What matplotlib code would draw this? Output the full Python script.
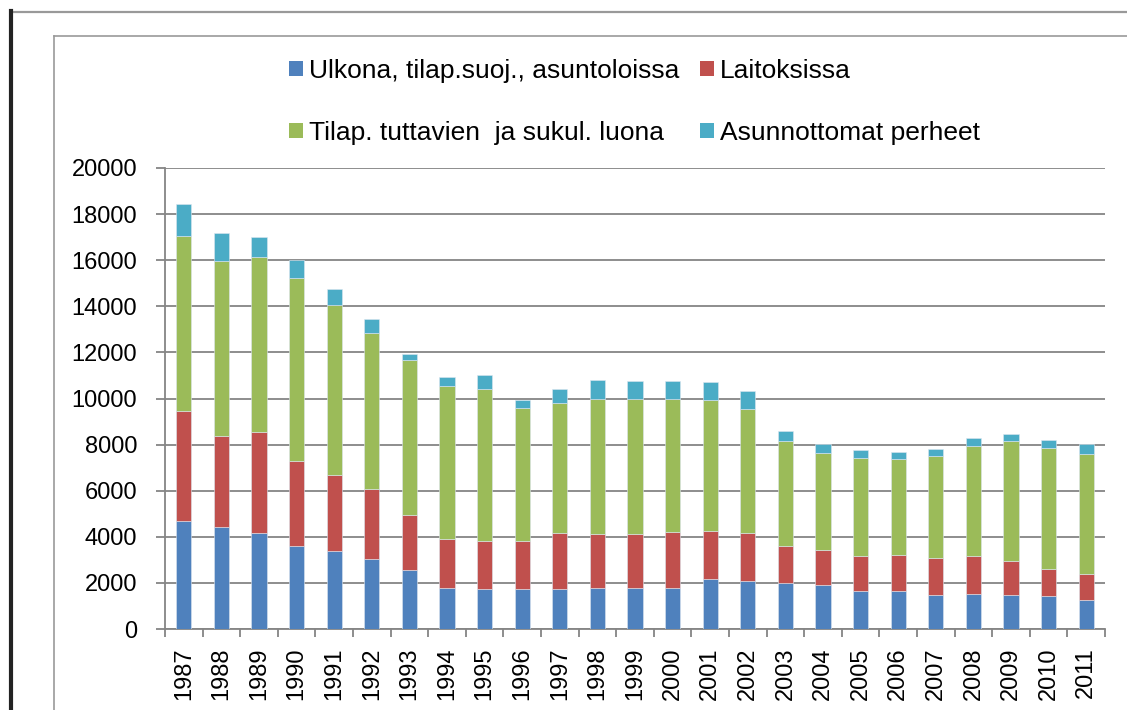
import matplotlib.pyplot as plt
from matplotlib.lines import Line2D
from matplotlib.patches import Patch
import numpy as np

plt.rcParams['font.family'] = ['Liberation Sans', 'DejaVu Sans']

years = [str(y) for y in range(1987, 2012)]

# persons
ulkona = [4690, 4410, 4150, 3610, 3370, 3040, 2570, 1770, 1720, 1720, 1720, 1780, 1770,
          1790, 2160, 2070, 2010, 1910, 1630, 1650, 1480, 1530, 1480, 1450, 1240]
laitoksissa = [4770, 3980, 4380, 3680, 3310, 3020, 2390, 2150, 2100, 2100, 2430, 2340, 2360,
               2400, 2080, 2080, 1600, 1520, 1550, 1560, 1590, 1640, 1460, 1170, 1130]
tuttavat = [7600, 7590, 7610, 7940, 7380, 6800, 6690, 6610, 6580, 5770, 5640, 5850, 5840,
            5780, 5690, 5390, 4560, 4220, 4250, 4180, 4450, 4770, 5220, 5250, 5240]
perheet = [1390, 1190, 880, 760, 700, 580, 280, 390, 600, 360, 610, 820, 790,
           790, 790, 770, 430, 360, 350, 300, 300, 330, 310, 340, 420]

labels = ['Ulkona, tilap.suoj., asuntoloissa', 'Laitoksissa',
          'Tilap. tuttavien  ja sukul. luona', 'Asunnottomat perheet']
colors = ['#4F81BD', '#C0504D', '#9BBB59', '#4BACC6']

W, H = 1127, 710
fig = plt.figure(figsize=(W / 100, H / 100), dpi=100)


def fx(px):
    return px / W


def fy(py):
    return 1 - py / H


# page / chart frame lines
fig.add_artist(Line2D([fx(12), 1], [fy(12), fy(12)], color='#999999', lw=1.6))
fig.add_artist(Line2D([fx(10.5), fx(10.5)], [fy(11), 0], color='#222222', lw=3))
fig.add_artist(Line2D([fx(54), 1], [fy(36), fy(36)], color='#9a9a9a', lw=1.2))
fig.add_artist(Line2D([fx(54), fx(54)], [fy(36), 0], color='#9a9a9a', lw=1.2))

ax = fig.add_axes([fx(165), fy(629), fx(1105) - fx(165), fy(168) - fy(629)])

x = np.arange(len(years))
series = [ulkona, laitoksissa, tuttavat, perheet]
bottom = np.zeros(len(years))
for vals, c in zip(series, colors):
    ax.bar(x, vals, width=0.4, bottom=bottom, color=c, edgecolor='#dde6f0',
           linewidth=0.4, zorder=3)
    bottom += np.array(vals)

ax.set_xlim(-0.5, len(years) - 0.5)
ax.set_ylim(0, 20000)
ax.set_yticks(np.arange(0, 20001, 2000))
ax.grid(axis='y', color='#858585', lw=1.3, zorder=0)

ax.set_xticks(x)
ax.set_xticklabels(years, rotation=90)
ax.set_xticks(np.arange(-0.5, len(years)), minor=True)
ax.tick_params(axis='x', which='major', length=0, pad=13, labelsize=17)
ax.tick_params(axis='x', which='minor', length=6, width=1.3, color='#858585')
ax.tick_params(axis='y', length=6.5, width=1.3, color='#858585', pad=13.5, labelsize=17)

for s in ['top', 'right']:
    ax.spines[s].set_visible(False)
for s in ['left', 'bottom']:
    ax.spines[s].set_color('#858585')
    ax.spines[s].set_linewidth(1.3)

# legend fills column-wise, so order entries to get the reference's rows
order = [0, 2, 1, 3]
handles = [Patch(facecolor=colors[i], edgecolor='none') for i in order]
fig.legend(handles, [labels[i] for i in order], ncol=2, loc='upper left',
           bbox_to_anchor=(fx(289), fy(59)), frameon=False, fontsize=19,
           handlelength=0.53, handleheight=0.53, handletextpad=0.24,
           columnspacing=0.76, labelspacing=1.44, borderpad=0, borderaxespad=0)

fig.savefig('out.png', dpi=100)
